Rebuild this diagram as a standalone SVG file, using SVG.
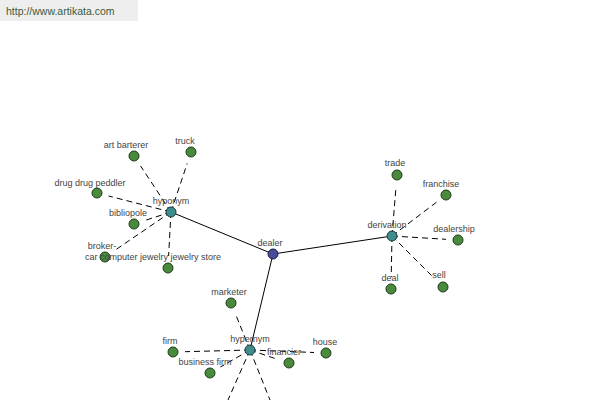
<svg xmlns="http://www.w3.org/2000/svg" width="600" height="400" viewBox="0 0 600 400">
<style>
text{font-family:"Liberation Sans","DejaVu Sans",sans-serif;font-size:9px;fill:#444;text-anchor:middle}
.solid{stroke:#000;stroke-width:1;fill:none}
.dash{stroke:#000;stroke-width:1;fill:none;stroke-dasharray:6,4}
.leaf{fill:#4a8a3c;stroke:#1e3a1a;stroke-width:1}
.hub{fill:#3e8c8c;stroke:#1a3a3a;stroke-width:1}
.root{fill:#4a4a9a;stroke:#1a1a40;stroke-width:1}
</style>
<rect width="600" height="400" fill="#fff"/>
<g id="header">
<rect x="0" y="0" width="138" height="21" fill="#eeeeee"/>
<text x="6" y="15" style="text-anchor:start;font-family:'Liberation Sans',sans-serif;font-size:10.5px;fill:#3c5a3c">http://www.artikata.com</text>
</g>
<g id="connectors">
<line class="solid" x1="273" y1="254" x2="171" y2="212"/>
<line class="solid" x1="273" y1="254" x2="392" y2="236"/>
<line class="solid" x1="273" y1="254" x2="250" y2="350"/>
<line class="dash" x1="171" y1="212" x2="140.6" y2="166"/>
<line class="dash" x1="171" y1="212" x2="187.2" y2="163.4"/>
<line class="dash" x1="171" y1="212" x2="108.6" y2="196"/>
<line class="dash" x1="171" y1="212" x2="145.4" y2="220.3"/>
<line class="dash" x1="171" y1="212" x2="114.9" y2="250.3"/>
<line class="dash" x1="171" y1="212" x2="168.6" y2="256"/>
<line class="dash" x1="392" y1="236" x2="396" y2="187"/>
<line class="dash" x1="392" y1="236" x2="436.5" y2="202.2"/>
<line class="dash" x1="392" y1="236" x2="446" y2="239.3"/>
<line class="dash" x1="392" y1="236" x2="391.2" y2="277"/>
<line class="dash" x1="392" y1="236" x2="434.5" y2="278.5"/>
<line class="dash" x1="250" y1="350" x2="235.5" y2="314"/>
<line class="dash" x1="250" y1="350" x2="185" y2="351.7"/>
<line class="dash" x1="250" y1="350" x2="220.4" y2="367"/>
<line class="dash" x1="250" y1="350" x2="278" y2="359.5"/>
<line class="dash" x1="250" y1="350" x2="314" y2="352.5"/>
<line class="dash" x1="250" y1="350" x2="228" y2="400"/>
<line class="dash" x1="250" y1="350" x2="270" y2="400"/>
</g>
<g id="dealer"><circle class="root" cx="273" cy="254" r="5"/><text x="270" y="246">dealer</text></g>
<g id="hyponym"><circle class="hub" cx="171" cy="212" r="5"/><text x="171" y="204">hyponym</text></g>
<g id="derivation"><circle class="hub" cx="392" cy="236" r="5"/><text x="387" y="228">derivation</text></g>
<g id="hypernym"><circle class="hub" cx="250" cy="350" r="5"/><text x="250" y="342">hypernym</text></g>
<g id="art-barterer"><circle class="leaf" cx="134" cy="156" r="5"/><text x="126" y="148">art barterer</text></g>
<g id="truck"><circle class="leaf" cx="191" cy="152" r="5"/><text x="185" y="144">truck</text></g>
<g id="drug-drug-peddler"><circle class="leaf" cx="97" cy="193" r="5"/><text x="90" y="186">drug drug peddler</text></g>
<g id="bibliopole"><circle class="leaf" cx="134" cy="224" r="5"/><text x="128" y="216">bibliopole</text></g>
<g id="broker"><circle class="leaf" cx="105" cy="257" r="5"/><text x="102" y="249">broker-</text></g>
<g id="jewelry-store"><circle class="leaf" cx="168" cy="268" r="5"/><text x="153" y="260">car computer jewelry jewelry store</text></g>
<g id="trade"><circle class="leaf" cx="397" cy="175" r="5"/><text x="395" y="166">trade</text></g>
<g id="franchise"><circle class="leaf" cx="446" cy="195" r="5"/><text x="441" y="187">franchise</text></g>
<g id="dealership"><circle class="leaf" cx="458" cy="240" r="5"/><text x="454" y="232">dealership</text></g>
<g id="deal"><circle class="leaf" cx="391" cy="289" r="5"/><text x="390" y="281">deal</text></g>
<g id="sell"><circle class="leaf" cx="443" cy="287" r="5"/><text x="439" y="278">sell</text></g>
<g id="marketer"><circle class="leaf" cx="231" cy="303" r="5"/><text x="229" y="295">marketer</text></g>
<g id="firm"><circle class="leaf" cx="173" cy="352" r="5"/><text x="170" y="344">firm</text></g>
<g id="business-firm"><circle class="leaf" cx="210" cy="373" r="5"/><text x="205" y="365">business firm</text></g>
<g id="financier"><circle class="leaf" cx="289" cy="363" r="5"/><text x="284" y="355">financier</text></g>
<g id="house"><circle class="leaf" cx="326" cy="353" r="5"/><text x="325" y="345">house</text></g>
</svg>
